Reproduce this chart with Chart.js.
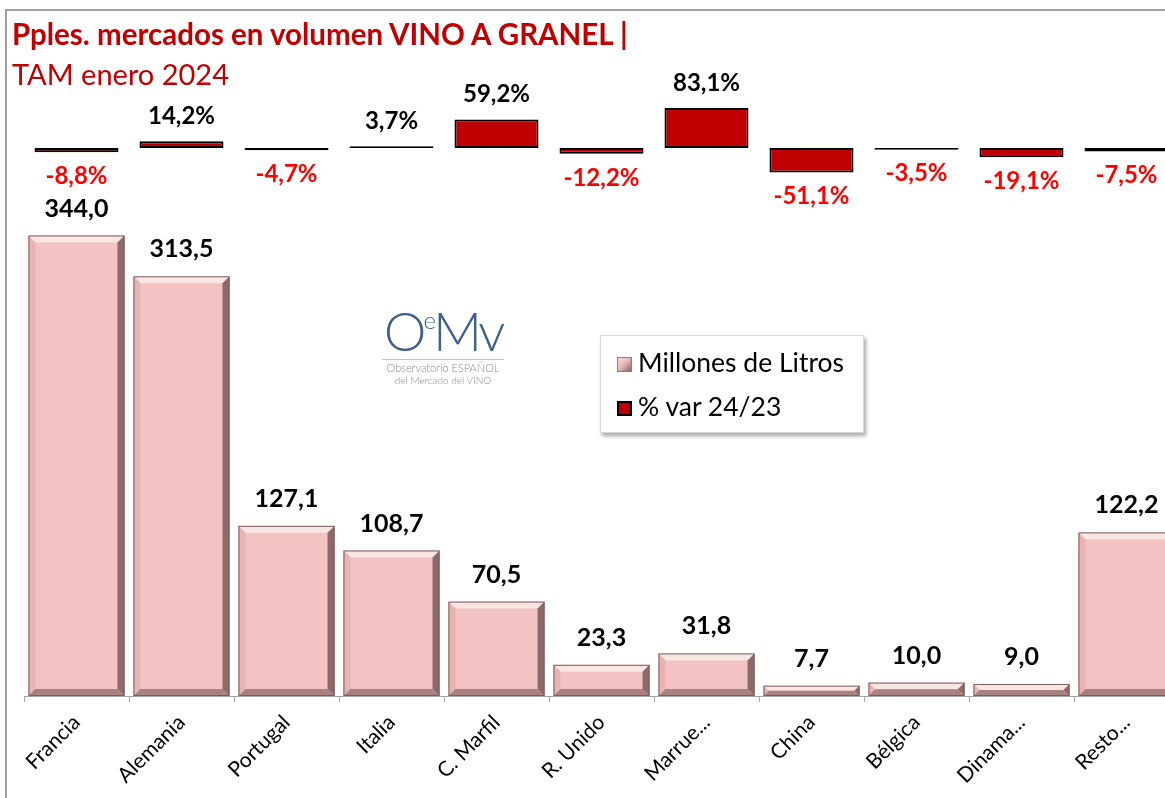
<!DOCTYPE html>
<html>
<head>
<meta charset="utf-8">
<script src="https://cdn.jsdelivr.net/npm/chart.js@4"></script>
<style>
  html, body { margin: 0; padding: 0; overflow: hidden; background: #fff; }
  body { width: 1165px; height: 798px; position: relative; font-family: Lato, sans-serif; }
  #frame { position: absolute; left: 5px; top: 9px; width: 1200px; height: 820px; border: 2px solid #a0a0a0; }
  #title1 { position: absolute; left: 12px; top: 16px; font: bold 29.5px Lato, sans-serif; color: #C00000; white-space: nowrap; }
  #title2 { position: absolute; left: 12px; top: 56px; font: 29px Lato, sans-serif; color: #C00000; white-space: nowrap; }
  #chart { position: absolute; left: 0; top: 0; }
  #logo { position: absolute; left: 378px; top: 292px; width: 130px; text-align: center; color: #3f5f8c; }
  #logo .big { font: 300 54px Lato, sans-serif; letter-spacing: -3px; line-height: 56px; }
  #logo .big sup { font-size: 24px; vertical-align: 22px; }
  #logo .rule { border-top: 1px solid #e6b8b8; margin: 0 4px 1px 4px; }
  #logo .small { font: 300 11px Lato, sans-serif; color: #8a8a8a; line-height: 13px; white-space: nowrap; }
  #legend { position: absolute; left: 600px; top: 335px; width: 262px; height: 96px; background: #fff;
            border: 1px solid #d8d8d8; box-shadow: 2px 3px 4px rgba(0,0,0,0.35); }
  .item { position: absolute; left: 16px; font: 26.5px Lato, sans-serif; color: #000; white-space: nowrap; }
  .mk { display: inline-block; width: 15px; height: 15px; margin-right: 6px; vertical-align: 0px; box-sizing: border-box; }
  .mk1 { background: linear-gradient(135deg, #f7dada 0%, #e9b9b9 45%, #8a6666 100%); border: 1px solid #9b7777; }
  .mk2 { background: #C00000; border: 2px solid #000; }
</style>
</head>
<body>
<div id="frame"></div>
<canvas id="chart" width="1180" height="798"></canvas>
<div id="title1">Pples. mercados en volumen VINO A GRANEL |</div>
<div id="title2">TAM enero 2024</div>
<div id="logo">
  <div class="big">O<sup>e</sup>Mv</div>
  <div class="rule"></div>
  <div class="small">Observatorio ESPAÑOL</div>
  <div class="small" style="font-size:10px">del Mercado del VINO</div>
</div>
<div id="legend">
  <div class="item" style="top:10px"><span class="mk mk1"></span>Millones de Litros</div>
  <div class="item" style="top:54px"><span class="mk mk2"></span>% var 24/23</div>
</div>
<script>
var paises = ["Francia", "Alemania", "Portugal", "Italia", "C. Marfil", "R. Unido",
              "Marrue...", "China", "Bélgica", "Dinama...", "Resto..."]
var litros = [344.0, 313.5, 127.1, 108.7, 70.5, 23.3, 31.8, 7.7, 10.0, 9.0, 122.2]
var variacion = [-8.8, 14.2, -4.7, 3.7, 59.2, -12.2, 83.1, -51.1, -3.5, -19.1, -7.5]

function fmt(v, dec) {
    return v.toFixed(dec).replace('.', ',');
}

// bisel sobre las barras de litros
var bevelPlugin = {
    id: 'bevel',
    afterDatasetsDraw: function (chart) {
        var ctx = chart.ctx;
        var meta = chart.getDatasetMeta(0);
        meta.data.forEach(function (bar) {
            var p = bar.getProps(['x', 'y', 'base', 'width'], true);
            var l = p.x - p.width / 2, r = p.x + p.width / 2, t = p.y, b = p.base;
            var bw = Math.min(7, (b - t) / 2);
            ctx.save();
            function poly(pts, col) {
                ctx.beginPath();
                ctx.moveTo(pts[0][0], pts[0][1]);
                for (var i = 1; i < pts.length; i++) ctx.lineTo(pts[i][0], pts[i][1]);
                ctx.closePath();
                ctx.fillStyle = col;
                ctx.fill();
            }
            poly([[l, t], [r, t], [r - bw, t + bw], [l + bw, t + bw]], '#fbe6e6');
            poly([[l, t], [l + bw, t + bw], [l + bw, b - bw], [l, b]], '#e7b3b3');
            poly([[r, t], [r, b], [r - bw, b - bw], [r - bw, t + bw]], '#8c6a6a');
            poly([[l, b], [l + bw, b - bw], [r - bw, b - bw], [r, b]], '#a98181');
            ctx.strokeStyle = '#7d5c5c';
            ctx.lineWidth = 1;
            ctx.strokeRect(l + 0.5, t + 0.5, p.width - 1, b - t - 1);
            ctx.restore();
        });
    }
};

var labelPlugin = {
    id: 'etiquetas',
    afterDatasetsDraw: function (chart) {
        var ctx = chart.ctx;
        ctx.save();
        ctx.textAlign = 'center';
        ctx.textBaseline = 'middle';
        ctx.font = 'bold 25px Lato, sans-serif';
        chart.getDatasetMeta(0).data.forEach(function (bar, i) {
            ctx.fillStyle = '#000';
            ctx.fillText(fmt(litros[i], 1), bar.x, bar.y - 27);
        });
        ctx.font = 'bold 24px Lato, sans-serif';
        chart.getDatasetMeta(1).data.forEach(function (bar, i) {
            var v = variacion[i];
            if (v >= 0) {
                ctx.fillStyle = '#000';
                ctx.fillText(fmt(v, 1) + '%', bar.x, bar.y - 25);
            } else {
                ctx.fillStyle = '#ff0000';
                ctx.fillText(fmt(v, 1) + '%', bar.x, bar.y + 24);
            }
        });
        ctx.restore();
    }
};

var myChart = new Chart(document.getElementById("chart"), {
    type: 'bar',
    data: {
        labels: paises,
        datasets: [{
            label: "Millones de Litros",
            data: litros,
            yAxisID: 'y',
            backgroundColor: '#f3c3c3',
            borderWidth: 0,
            barPercentage: 0.915,
            categoryPercentage: 1,
            grouped: false
        }, {
            label: "% var 24/23",
            data: variacion,
            yAxisID: 'y2',
            backgroundColor: '#C00000',
            borderColor: '#000',
            borderWidth: 2,
            borderSkipped: false,
            barPercentage: 0.8,
            categoryPercentage: 1,
            grouped: false
        }]
    },
    options: {
        responsive: false,
        animation: false,
        devicePixelRatio: 1,
        layout: { padding: { top: 40, left: 24, right: 1, bottom: 0 } },
        plugins: {
            legend: { display: false },
            title: { display: false },
            tooltip: { enabled: false }
        },
        scales: {
            x: {
                afterFit: function (scale) { scale.height = 102; },
                grid: { offset: true, drawOnChartArea: false, tickLength: 6, color: '#a6a6a6' },
                border: { display: true, color: '#a6a6a6', width: 1 },
                ticks: {
                    color: '#000',
                    font: { family: 'Lato, sans-serif', size: 21 },
                    minRotation: 45, maxRotation: 45, autoSkip: false, padding: 8
                }
            },
            y: { display: false, min: 0, max: 490 },
            y2: { display: false, min: -1142, max: 225 }
        }
    },
    plugins: [bevelPlugin, labelPlugin]
});
</script>
</body>
</html>
